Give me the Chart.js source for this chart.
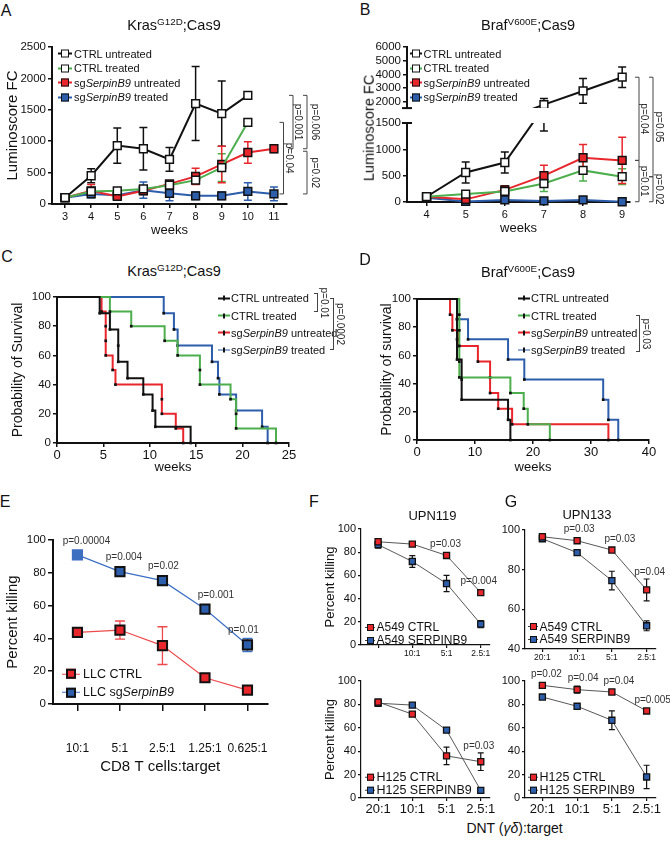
<!DOCTYPE html>
<html><head><meta charset="utf-8">
<script src="https://cdn.jsdelivr.net/npm/chart.js@4.4.1/dist/chart.umd.min.js"></script>
<style>
html,body{margin:0;padding:0;background:#fff}
body{position:relative;width:670px;height:845px;overflow:hidden;font-family:"Liberation Sans",Arial,Helvetica,sans-serif;color:#111}
canvas{position:absolute}
.t{position:absolute;white-space:nowrap;line-height:1}
sup{font-size:68%;vertical-align:0;position:relative;top:-0.5em}
</style></head><body>
<script>
// ================= DATA =================
const seriesNames = ['CTRL untreated', 'CTRL treated', 'sg<i>SerpinB9</i> untreated', 'sg<i>SerpinB9</i> treated'];

// Panel A  (Kras G12D; Cas9) luminoscore fold change
const weeksA = [3, 4, 5, 6, 7, 8, 9, 10, 11];
const aYTicks = [0, 500, 1000, 1500, 2000, 2500];
const aCtrlUnt = [100, 450, 930, 880, 710, 1600, 1440, 1730, null];
const aCtrlUntErr = [0, 110, 280, 340, 190, 590, 520, 0, null];
const aCtrlTrt = [100, 200, 210, 240, 300, 380, 580, 1300, null];
const aCtrlTrtErr = [0, 60, 0, 0, 60, 60, 220, 0, null];
const aSgUnt = [100, 210, 120, 210, 320, 440, 630, 820, 880];
const aSgUntErr = [0, 100, 40, 60, 40, 130, 290, 170, 60];
const aSgTrt = [100, 160, 140, 220, 170, 130, 130, 200, 160];
const aSgTrtErr = [0, 60, 40, 130, 120, 60, 60, 140, 110];
const aPvals = ['p=0.001', 'p=0.04', 'p=0.006', 'p=0.02'];

// Panel B  (Braf V600E; Cas9)
const weeksB = [4, 5, 6, 7, 8, 9];
const bYTicksTop = [2000, 3000, 4000, 5000, 6000];
const bYTicksBot = [0, 500, 1000, 1500];
const bCtrlUnt = [100, 560, 750, 1800, 2800, 3800];
const bCtrlUntErr = [0, 200, 200, 450, 900, 750];
const bCtrlTrt = [100, 150, 200, 350, 600, 480];
const bCtrlTrtErr = [0, 0, 60, 150, 200, 150];
const bSgUnt = [100, 50, 230, 500, 840, 790];
const bSgUntErr = [0, 30, 80, 200, 250, 440];
const bSgTrt = [80, 10, 40, 20, 40, 5];
const bSgTrtErr = [0, 0, 20, 0, 20, 0];
const bPvals = ['p=0.04', 'p=0.01', 'p=0.05', 'p=0.02'];

// Panel C  (Kras survival) - event times (weeks) and survival (%)
const cXTicks = [0, 5, 10, 15, 20, 25];
const survTicks = [0, 20, 40, 60, 80, 100];
const cCtrlUntT = [0, 4.6, 5.7, 6.6, 6.6, 7.6, 9.3, 10.3, 10.6, 14.4];
const cCtrlUntS = [100, 88.9, 77.8, 66.7, 55.6, 44.4, 33.3, 22.2, 11.1, 0];
const cCtrlTrtT = [0, 5.7, 8.0, 11.6, 13.0, 15.4, 15.4, 18.7, 19.3, 19.3, 23.6];
const cCtrlTrtS = [100, 90, 80, 70, 60, 50, 40, 30, 20, 10, 0];
const cSgUntT = [0, 4.8, 5.25, 5.25, 5.25, 6.0, 6.3, 11.3, 11.3, 12.8, 13.6];
const cSgUntS = [100, 90, 80, 70, 60, 50, 40, 30, 20, 10, 0];
const cSgTrtT = [0, 11.5, 12.6, 13.0, 16.7, 17.35, 17.5, 19.3, 22.1, 22.7];
const cSgTrtS = [100, 88.9, 77.8, 66.7, 55.6, 44.4, 33.3, 22.2, 11.1, 0];

// Panel D  (Braf survival)
const dXTicks = [0, 10, 20, 30, 40];
const dCtrlUntT = [0, 6.9, 6.9, 6.9, 7.7, 7.7, 15.7, 16.1];
const dCtrlUntS = [100, 85.7, 71.4, 57.1, 42.9, 28.6, 14.3, 0];
const dCtrlTrtT = [0, 7.3, 7.3, 7.3, 7.3, 7.3, 16.1, 18.4, 19.1, 22.9];
const dCtrlTrtS = [100, 88.9, 77.8, 66.7, 55.6, 44.4, 33.3, 22.2, 11.1, 0];
const dSgUntT = [0, 5.7, 6.1, 7.2, 10.5, 12.6, 12.6, 14.0, 16.4, 33.0];
const dSgUntS = [100, 88.9, 77.8, 66.7, 55.6, 44.4, 33.3, 22.2, 11.1, 0];
const dSgTrtT = [0, 6.9, 8.8, 15.7, 18.5, 32.1, 33.0, 34.7];
const dSgTrtS = [100, 85.7, 71.4, 57.1, 42.9, 28.6, 14.3, 0];

// Panel E  (LLC killing by CD8 T cells)
const eLabels = ['10:1', '5:1', '2.5:1', '1.25:1', '0.625:1'];
const pctTicks = [0, 20, 40, 60, 80, 100];
const eCtrl = [43.7, 45.1, 35.6, 16, 8.5];
const eCtrlErr = [0, 5.5, 11.5, 0, 0];
const eSg = [90.9, 80.7, 75.2, 57.9, 36];
const eSgErr = [0, 0, 0, 0, 4];
const ePvals = ['p=0.00004', 'p=0.004', 'p=0.02', 'p=0.001', 'p=0.01'];

// Panels F / G  (DNT killing)
const ratioLabelsFTop = ['', '10:1', '5:1', '2.5:1'];
const ratioLabels = ['20:1', '10:1', '5:1', '2.5:1'];
const gTopTicks = [40, 60, 80, 100];
const fA549Ctrl = [89, 87, 77.2, 45.2];
const fA549CtrlErr = [2, 0, 0, 2];
const fA549Serp = [86.5, 72, 53, 18];
const fA549SerpErr = [3, 5, 7, 3];
const fTopP = ['', '', 'p=0.03', 'p=0.004'];
const fH125Ctrl = [82, 71.7, 36, 31];
const fH125CtrlErr = [0, 0, 7.5, 7.5];
const fH125Serp = [81, 79.4, 58, 6.5];
const fH125SerpErr = [0, 0, 2, 0];
const fBotP = ['', '', '', 'p=0.03'];
const gA549Ctrl = [96.6, 94.6, 89.9, 69.8];
const gA549CtrlErr = [0, 0, 0, 5.5];
const gA549Serp = [95.6, 88.6, 74.5, 51.7];
const gA549SerpErr = [0, 1, 4.7, 2.5];
const gTopP = ['', 'p=0.03', 'p=0.03', 'p=0.04'];
const gH125Ctrl = [96.3, 92.6, 90.6, 74.4];
const gH125CtrlErr = [0, 3, 0, 0];
const gH125Serp = [86.3, 78.4, 66.4, 18];
const gH125SerpErr = [0, 2, 8, 10];
const gBotP = ['p=0.02', 'p=0.04', 'p=0.04', 'p=0.005'];

// ================= STYLE / HELPERS =================
const FONT = '"Liberation Sans", Arial, Helvetica, sans-serif';
Chart.defaults.font.family = FONT;
Chart.defaults.color = '#111';
const K = '#111', GR = '#4cae4c', RD = '#e8262b', BL = '#2d5eac', GREY = '#444';

const pts = (xs, ys) => xs.map((x, i) => ({x, y: ys[i]})).filter(p => p.y != null);
const strip = s => s.replace(/<[^>]+>/g, '');

function pixY(chart, cid, v) {
  if (!cid) return chart.scales.y.getPixelForValue(v);
  const o = Chart.getChart(cid);
  return o.scales.y.getPixelForValue(v) + o.canvas.offsetTop - chart.canvas.offsetTop;
}

const errPlugin = {
  id: 'errbars',
  beforeDatasetsDraw(chart, args, o) {
    const ctx = chart.ctx, a = chart.chartArea;
    ctx.save();
    const top = o.clipTop ? a.top : 0, bot = o.clipBottom ? a.bottom : chart.height;
    ctx.beginPath(); ctx.rect(0, top, chart.width, bot - top); ctx.clip();
    chart.data.datasets.forEach((d, i) => {
      if (!d.err) return;
      const meta = chart.getDatasetMeta(i);
      const xs = chart.scales[meta.xAxisID], ys = chart.scales[meta.yAxisID];
      ctx.strokeStyle = o.color || d.borderColor; ctx.lineWidth = o.width || 1.5;
      d.data.forEach((p, j) => {
        const e = d.err[j]; if (!e) return;
        const x = xs.getPixelForValue(p.x), yt = ys.getPixelForValue(p.y + e), yb = ys.getPixelForValue(p.y - e), c = o.cap || 4;
        ctx.beginPath();
        ctx.moveTo(x, yt); ctx.lineTo(x, yb);
        ctx.moveTo(x - c, yt); ctx.lineTo(x + c, yt);
        ctx.moveTo(x - c, yb); ctx.lineTo(x + c, yb);
        ctx.stroke();
      });
    });
    ctx.restore();
  }
};

const bracketPlugin = {
  id: 'brackets',
  afterDraw(chart, args, o) {
    if (!o.items) return;
    const ctx = chart.ctx, a = chart.chartArea;
    ctx.save();
    ctx.strokeStyle = GREY; ctx.fillStyle = '#222'; ctx.lineWidth = 1;
    ctx.font = (o.fs || 10) + 'px ' + FONT;
    o.items.forEach(it => {
      const y1 = pixY(chart, it.c1, it.v1), y2 = pixY(chart, it.c2, it.v2), x = a.right + it.dx;
      ctx.beginPath(); ctx.moveTo(x - 4, y1); ctx.lineTo(x, y1); ctx.lineTo(x, y2); ctx.lineTo(x - 4, y2); ctx.stroke();
      ctx.save(); ctx.translate(x + (it.tx || 6), (y1 + y2) / 2); ctx.rotate(Math.PI / 2);
      ctx.textAlign = 'center'; ctx.textBaseline = 'middle'; ctx.fillText(it.label, 0, 0); ctx.restore();
    });
    ctx.restore();
  }
};

const pLabelPlugin = {
  id: 'plabels',
  afterDatasetsDraw(chart, args, o) {
    if (!o.labels) return;
    const ctx = chart.ctx, d = chart.data.datasets[o.ds];
    ctx.save(); ctx.fillStyle = '#333'; ctx.font = (o.fs || 10) + 'px ' + FONT;
    ctx.textAlign = 'center'; ctx.textBaseline = 'middle';
    o.labels.forEach((lab, j) => {
      if (!lab) return;
      const p = d.data[j], e = (d.err && d.err[j]) || 0;
      const x = chart.scales.x.getPixelForValue(p.x) + (o.dx ? o.dx[j] : 0);
      const y = Math.min(chart.scales.y.getPixelForValue(p.y + e), chart.scales.y.getPixelForValue(p.y) - o.half) - o.gap;
      ctx.fillText(lab, x, y);
    });
    ctx.restore();
  }
};

const capPlugin = {
  id: 'axiscap',
  afterDraw(chart, args, o) {
    if (!o.where) return;
    const ctx = chart.ctx, a = chart.chartArea;
    const y = o.where === 'top' ? a.top : a.bottom;
    ctx.save(); ctx.strokeStyle = K; ctx.lineWidth = 2;
    ctx.beginPath(); ctx.moveTo(a.left - 5, y); ctx.lineTo(a.left + 5, y); ctx.stroke(); ctx.restore();
  }
};

function axis(o) {
  return {
    type: 'linear', display: o.display !== false, min: o.min, max: o.max,
    afterBuildTicks: s => { s.ticks = o.ticks.map(v => ({value: v})); },
    afterFit: s => { if (o.size != null) { if (s.isHorizontal()) s.height = o.size; else s.width = o.size; } },
    grid: {display: true, drawOnChartArea: false, drawTicks: true, tickLength: o.tl ?? 4, color: K, lineWidth: o.bw ?? 1.5},
    border: {display: true, color: K, width: o.bw ?? 2},
    ticks: {font: {size: o.fs}, color: K, padding: o.tp ?? 2, maxRotation: 0, autoSkip: false,
      callback: (v, i) => o.labels ? o.labels[i] : String(v)},
    title: o.title ? {display: true, text: o.title, color: K, font: {size: o.tfs}, padding: o.tpad} : {display: false}
  };
}

function opts(x, y, plugins) {
  return {responsive: false, animation: false, devicePixelRatio: 1, events: [],
    scales: {x, y}, plugins: Object.assign({legend: {display: false}, tooltip: {enabled: false}}, plugins || {})};
}

function mk(id, area, pad, config) {
  const c = document.createElement('canvas');
  c.id = id;
  const w = Math.round(area.r - area.l + pad.L + pad.R), h = Math.round(area.b - area.t + pad.T + pad.B);
  c.width = w; c.height = h;
  c.style.left = (area.l - pad.L) + 'px'; c.style.top = (area.t - pad.T) + 'px';
  c.style.width = w + 'px'; c.style.height = h + 'px';
  document.body.appendChild(c);
  config.options.layout = {padding: {left: 0, top: pad.T, right: pad.R, bottom: 0}};
  config.plugins = [errPlugin, bracketPlugin, pLabelPlugin, capPlugin];
  return new Chart(c, config);
}

function ds(label, xs, ys, err, o) {
  return Object.assign({
    label: strip(label), data: pts(xs, ys), err,
    borderColor: o.line, backgroundColor: o.fill,
    pointBackgroundColor: o.fill, pointBorderColor: o.pb || K, pointBorderWidth: o.pbw ?? 1.5,
    pointStyle: 'rect', pointRadius: o.r || 5, borderWidth: o.lw || 2, tension: 0, clip: o.clip ?? false
  });
}

// Kaplan-Meier step curve: horizontal first, then drop at the event time
function km(label, ts, ss, color) {
  return {label: strip(label), data: pts(ts, ss), borderColor: color, borderWidth: 2, stepped: 'before',
    pointStyle: 'rect', pointRadius: c => c.dataIndex === 0 ? 0 : 1.9, pointBackgroundColor: K,
    pointBorderColor: K, pointBorderWidth: 0, clip: false};
}

function txt(html, x, y, fs, o = {}) {
  const d = document.createElement('div');
  d.className = 't'; d.innerHTML = html;
  d.style.left = x + 'px'; d.style.top = y + 'px'; d.style.fontSize = fs + 'px';
  if (o.color) d.style.color = o.color;
  const ax = o.align === 'left' ? '0' : '-50%';
  d.style.transform = `translate(${ax},-50%)` + (o.rot ? ` rotate(${o.rot}deg)` : '');
  document.body.appendChild(d);
  return d;
}

function legend(x, y, dy, fs, items, m) {
  items.forEach((it, i) => {
    const d = document.createElement('div');
    d.className = 't';
    d.style.left = x + 'px'; d.style.top = (y + i * dy) + 'px'; d.style.fontSize = fs + 'px';
    d.style.transform = 'translateY(-50%)'; d.style.display = 'flex'; d.style.alignItems = 'center';
    let mark;
    if (m.type === 'sq') mark = `<span style="position:absolute;left:50%;top:50%;width:${m.s}px;height:${m.s}px;margin:-${m.s / 2}px 0 0 -${m.s / 2}px;box-sizing:border-box;background:${it.fill};border:${m.bw}px solid ${K}"></span>`;
    else mark = `<span style="position:absolute;left:50%;top:50%;width:2px;height:5px;margin:-2.5px 0 0 -1px;background:${K}"></span>`;
    d.innerHTML = `<span style="position:relative;display:inline-block;width:${m.lw}px;height:${m.lh}px;background:${it.line};margin-right:${m.gap}px">${mark}</span><span>${it.label}</span>`;
    document.body.appendChild(d);
  });
}

function hBracket(x, y1, y2, label, lx, fs) {
  const b = document.createElement('div');
  b.style.cssText = `position:absolute;left:${x - 4}px;top:${y1}px;width:4px;height:${y2 - y1}px;border:1px solid ${GREY};border-left:none;box-sizing:border-box`;
  document.body.appendChild(b);
  txt(label, lx, (y1 + y2) / 2, fs, {rot: 90, color: '#222'});
}

// ================= PANEL A =================
mk('cA', {l: 52, t: 47, r: 287, b: 204}, {L: 52, T: 17, R: 48, B: 36}, {
  type: 'line',
  data: {datasets: [
    ds(seriesNames[0], weeksA, aCtrlUnt, aCtrlUntErr, {line: K, fill: '#fff', r: 5.5}),
    ds(seriesNames[1], weeksA, aCtrlTrt, aCtrlTrtErr, {line: GR, fill: '#fff', r: 5.5}),
    ds(seriesNames[2], weeksA, aSgUnt, aSgUntErr, {line: RD, fill: RD, r: 5.5}),
    ds(seriesNames[3], weeksA, aSgTrt, aSgTrtErr, {line: BL, fill: BL, r: 5.5})
  ]},
  options: opts(
    axis({min: 2.5, max: 11.5, ticks: weeksA, fs: 11, size: 36, title: 'weeks', tfs: 13, tpad: {top: 0, bottom: 2}}),
    axis({min: 0, max: 2500, ticks: aYTicks, fs: 11.5, size: 52, title: 'Luminoscore FC', tfs: 15, tpad: {top: 4, bottom: 0}}),
    {errbars: {cap: 4}, brackets: {fs: 10, items: [
      {v1: aCtrlUnt[7], v2: aSgUnt[8], dx: 6, tx: 5, label: aPvals[0]},
      {v1: aCtrlTrt[7], v2: aSgTrt[8], dx: -3.5, tx: 5, label: aPvals[1]},
      {v1: aCtrlUnt[7], v2: aSgUnt[8], dx: 20, tx: 8, label: aPvals[2]},
      {v1: aSgUnt[8] - 40, v2: aSgTrt[8], dx: 20, tx: 8, label: aPvals[3]}
    ]}}
  )
});

// ================= PANEL B (broken axis: two stacked charts) =================
const bClipTop = {left: false, right: false, top: false, bottom: 0};
const bClipBot = {left: false, right: false, top: 0, bottom: false};
function bSets(clip) {
  return [
    ds(seriesNames[0], weeksB, bCtrlUnt, bCtrlUntErr, {line: K, fill: '#fff', r: 5.5, clip}),
    ds(seriesNames[1], weeksB, bCtrlTrt, bCtrlTrtErr, {line: GR, fill: '#fff', r: 5.5, clip}),
    ds(seriesNames[2], weeksB, bSgUnt, bSgUntErr, {line: RD, fill: RD, r: 5.5, clip}),
    ds(seriesNames[3], weeksB, bSgTrt, bSgTrtErr, {line: BL, fill: BL, r: 5.5, clip})
  ];
}
mk('cBtop', {l: 407, t: 47, r: 630, b: 117}, {L: 72, T: 17, R: 40, B: 0}, {
  type: 'line', data: {datasets: bSets(bClipTop)},
  options: opts(
    axis({display: false, min: 3.5, max: 9.2, ticks: weeksB, fs: 11}),
    axis({min: 1550, max: 6000, ticks: bYTicksTop, fs: 11.5, size: 72}),
    {errbars: {cap: 4, clipBottom: true}, axiscap: {where: 'bottom'}}
  )
});
mk('cBbot', {l: 407, t: 123, r: 630, b: 202}, {L: 72, T: 90, R: 40, B: 38}, {
  type: 'line', data: {datasets: bSets(bClipBot)},
  options: opts(
    axis({min: 3.5, max: 9.2, ticks: weeksB, fs: 11, size: 38, title: 'weeks', tfs: 13, tpad: {top: 0, bottom: 4}}),
    axis({min: 0, max: 1500, ticks: bYTicksBot, fs: 11.5, size: 72}),
    {errbars: {cap: 4, clipTop: true}, axiscap: {where: 'top'}, brackets: {fs: 10, items: [
      {c1: 'cBtop', v1: bCtrlUnt[5], v2: bSgUnt[5], dx: 9, tx: 5, label: bPvals[0]},
      {v1: bSgUnt[5], v2: bSgTrt[5], dx: 9, tx: 5, label: bPvals[1]},
      {c1: 'cBtop', v1: bCtrlUnt[5], v2: bCtrlTrt[5], dx: 23, tx: 6, label: bPvals[2]},
      {v1: bCtrlTrt[5], v2: bSgTrt[5], dx: 23, tx: 6, label: bPvals[3]}
    ]}}
  )
});

// ================= PANEL C =================
mk('cC', {l: 57, t: 297, r: 289, b: 443}, {L: 57, T: 17, R: 46, B: 34}, {
  type: 'line',
  data: {datasets: [
    km(seriesNames[0], cCtrlUntT, cCtrlUntS, K),
    km(seriesNames[1], cCtrlTrtT, cCtrlTrtS, GR),
    km(seriesNames[2], cSgUntT, cSgUntS, RD),
    km(seriesNames[3], cSgTrtT, cSgTrtS, BL)
  ]},
  options: opts(
    axis({min: 0, max: 25, ticks: cXTicks, fs: 13, size: 34, tp: 1, title: 'weeks', tfs: 13, tpad: {top: 0, bottom: 2}}),
    axis({min: 0, max: 100, ticks: survTicks, fs: 11.5, size: 57, title: 'Probability of Survival', tfs: 14, tpad: {top: 10, bottom: 0}})
  )
});

// ================= PANEL D =================
mk('cD', {l: 417, t: 299, r: 649, b: 440}, {L: 82, T: 17, R: 21, B: 37}, {
  type: 'line',
  data: {datasets: [
    km(seriesNames[0], dCtrlUntT, dCtrlUntS, K),
    km(seriesNames[1], dCtrlTrtT, dCtrlTrtS, GR),
    km(seriesNames[2], dSgUntT, dSgUntS, RD),
    km(seriesNames[3], dSgTrtT, dSgTrtS, BL)
  ]},
  options: opts(
    axis({min: 0, max: 40, ticks: dXTicks, fs: 13, size: 37, tp: 1, title: 'weeks', tfs: 13, tpad: {top: 0, bottom: 2}}),
    axis({min: 0, max: 100, ticks: survTicks, fs: 11.5, size: 82, title: 'Probability of survival', tfs: 14, tpad: {top: 44, bottom: 0}})
  )
});

// ================= PANEL E =================
mk('cE', {l: 53, t: 540, r: 273, b: 704}, {L: 53, T: 20, R: 27, B: 76}, {
  type: 'line',
  data: {datasets: [
    ds('LLC CTRL', [0, 1, 2, 3, 4], eCtrl, eCtrlErr, {line: '#ee4a4d', fill: RD, r: 6.5, lw: 1.2, pbw: 2}),
    Object.assign(ds('LLC sgSerpinB9', [0, 1, 2, 3, 4], eSg, eSgErr, {line: '#3c70c6', fill: BL, r: 6.5, lw: 1.2, pbw: 2}),
      {pointBorderColor: ['#3c6fc0', K, K, K, K], pointBackgroundColor: ['#3c6fc0', BL, BL, BL, BL]})
  ]},
  options: opts(
    axis({min: -0.575, max: 4.47, ticks: [0, 1, 2, 3, 4], labels: eLabels, fs: 12, size: 76, tl: 7, tp: 30, title: 'CD8 T cells:target', tfs: 15, tpad: {top: 0, bottom: 4}}),
    axis({min: 0, max: 100, ticks: pctTicks, fs: 11.5, size: 53, tl: 5, title: 'Percent killing', tfs: 15, tpad: {top: 4, bottom: 0}}),
    {errbars: {cap: 5, width: 1.3}, plabels: {ds: 1, labels: ePvals, dx: [9, 4, 1, 11, -4], gap: 8, half: 6, fs: 10}}
  )
});

// ================= PANELS F / G =================
function dnt(id, area, pad, labels, yTicks, ymin, c1, e1, c2, e2, pv, pdx, xfs, title) {
  return mk(id, area, pad, {
    type: 'line',
    data: {datasets: [
      ds('CTRL', [0, 1, 2, 3], c1, e1, {line: GREY, fill: RD, r: 4.3, lw: 0.9, pbw: 1.3}),
      ds('SERPINB9', [0, 1, 2, 3], c2, e2, {line: GREY, fill: BL, r: 4.3, lw: 0.9, pbw: 1.3})
    ]},
    options: opts(
      axis({min: -0.5, max: 3.27, ticks: [0, 1, 2, 3], labels, fs: xfs, size: pad.B, tl: 3, tp: 1, bw: 1.2}),
      axis({min: ymin, max: 100, ticks: yTicks, fs: 11, size: pad.L, tl: 3, tp: 2, bw: 1.2,
        title: title, tfs: 13, tpad: {top: 3, bottom: 0}}),
      {errbars: {cap: 3, width: 1.2, color: K}, plabels: {ds: 0, labels: pv, dx: pdx, gap: 7, half: 4, fs: 10}}
    )
  });
}
dnt('cFtop', {l: 361, t: 529, r: 490, b: 645}, {L: 41, T: 19, R: 15, B: 20}, ratioLabelsFTop, pctTicks, 0,
  fA549Ctrl, fA549CtrlErr, fA549Serp, fA549SerpErr, fTopP, [0, 0, -1, -2], 8.5, 'Percent killing');
dnt('cFbot', {l: 361, t: 681, r: 490, b: 798}, {L: 41, T: 16, R: 15, B: 22}, ratioLabels, pctTicks, 0,
  fH125Ctrl, fH125CtrlErr, fH125Serp, fH125SerpErr, fBotP, [0, 0, 0, -2], 13, 'Percent killing');
dnt('cGtop', {l: 525, t: 530, r: 656, b: 649}, {L: 25, T: 18, R: 14, B: 16}, ratioLabels, gTopTicks, 40,
  gA549Ctrl, gA549CtrlErr, gA549Serp, gA549SerpErr, gTopP, [0, 2, 8, 3], 8.5, null);
dnt('cGbot', {l: 525, t: 681, r: 656, b: 798}, {L: 25, T: 16, R: 14, B: 22}, ratioLabels, pctTicks, 0,
  gH125Ctrl, gH125CtrlErr, gH125Serp, gH125SerpErr, gBotP, [4, 6, 7, 6], 13, null);

// ================= TEXT / LEGENDS =================
[['A', 6, 11], ['B', 365, 10], ['C', 7, 257], ['D', 365, 260], ['E', 5, 502], ['F', 314, 502], ['G', 511, 502]]
  .forEach(([l, x, y]) => txt(l, x, y, 16));
txt('Kras<sup>G12D</sup>;Cas9', 174, 25, 14.5);
txt('Braf<sup>V600E</sup>;Cas9', 528, 25, 14.5);
txt('Kras<sup>G12D</sup>;Cas9', 174, 271, 14.5);
txt('Braf<sup>V600E</sup>;Cas9', 528, 272, 14.5);
txt('UPN119', 432.5, 515, 13);
txt('UPN133', 587, 514, 13);
txt('Luminoscore FC', 368.5, 127.5, 14.5, {rot: -90});
txt('DNT (<i>γδ</i>):target', 514.5, 828, 14);

const lineCols = [K, GR, RD, BL], fillCols = ['#fff', '#fff', RD, BL];
const sqItems = seriesNames.map((n, i) => ({label: n, line: lineCols[i], fill: fillCols[i]}));
legend(58, 53.5, 14.6, 11, sqItems, {type: 'sq', s: 8, bw: 1.5, lw: 14, lh: 2, gap: 2});
legend(410, 53.5, 14.6, 11, sqItems, {type: 'sq', s: 8, bw: 1.5, lw: 12, lh: 2, gap: 1.5});
legend(218, 298.3, 17.2, 11, sqItems, {type: 'tick', lw: 12, lh: 1.6, gap: 1});
legend(518, 298.3, 17.2, 11, sqItems, {type: 'tick', lw: 12, lh: 1.6, gap: 1});
legend(62, 674, 18.3, 12.5, [{label: 'LLC CTRL', line: '#ee4a4d', fill: RD}, {label: 'LLC sg<i>SerpinB9</i>', line: '#3c70c6', fill: BL}],
  {type: 'sq', s: 10, bw: 2, lw: 18, lh: 1.2, gap: 3});
const dntLeg = (x, y, dy, fs, a, b) => legend(x, y, dy, fs, [{label: a, line: GREY, fill: RD}, {label: b, line: GREY, fill: BL}],
  {type: 'sq', s: 7, bw: 1.2, lw: 10, lh: 1, gap: 1.5});
dntLeg(365, 627.3, 12.7, 12, 'A549 CTRL', 'A549 SERPINB9');
dntLeg(528, 626.7, 12.7, 12, 'A549 CTRL', 'A549 SERPINB9');
dntLeg(365, 777, 13.3, 12.5, 'H125 CTRL', 'H125 SERPINB9');
dntLeg(528, 777, 13.3, 12.5, 'H125 CTRL', 'H125 SERPINB9');

hBracket(318, 293, 312, 'p=0.01', 323.5, 10);
hBracket(334, 298, 350, 'p=0.0002', 340, 10);
hBracket(640, 315, 352, 'p=0.03', 645.5, 10);
</script>
</body></html>
